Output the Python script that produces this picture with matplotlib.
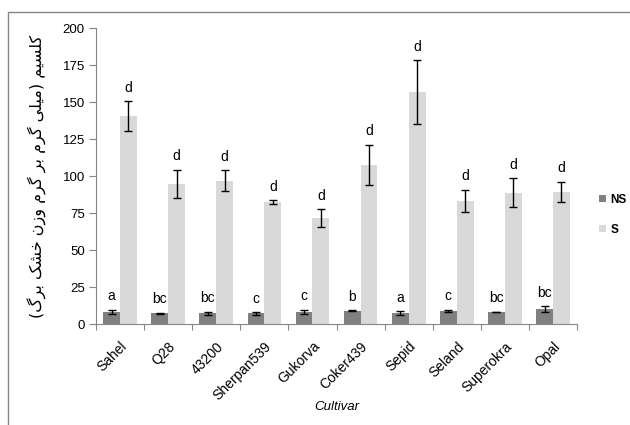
import numpy as np
import matplotlib.pyplot as plt
from matplotlib.patches import Rectangle

cultivars = ["Sahel", "Q28", "43200", "Sherpan539", "Gukorva", "Coker439",
             "Sepid", "Seland", "Superokra", "Opal"]
ns_mean = [8.1, 7.2, 7.4, 7.2, 8.1, 9.0, 7.4, 8.8, 8.1, 10.1]
ns_err = [1.5, 0.5, 1.0, 1.0, 1.5, 0.3, 1.5, 1.0, 0.3, 1.8]
s_mean = [140.7, 94.7, 96.8, 82.3, 71.5, 107.6, 156.8, 83.2, 88.8, 89.3]
s_err = [10.0, 9.7, 7.0, 1.5, 6.2, 13.5, 21.5, 7.5, 9.8, 7.0]
ns_letters = ["a", "bc", "bc", "c", "c", "b", "a", "c", "bc", "bc"]
s_letters = ["d"] * 10

ylabel_fa = "کلسیم (میلی گرم بر گرم وزن خشک برگ)"

# contextual forms: isolated, final, initial, medial
FORMS = {
    "ک": ("\uFB8E", "\uFB8F", "\uFB90", "\uFB91"),
    "گ": ("\uFB92", "\uFB93", "\uFB94", "\uFB95"),
    "ی": ("\uFBFC", "\uFBFD", "\uFBFE", "\uFBFF"),
    "ل": ("\uFEDD", "\uFEDE", "\uFEDF", "\uFEE0"),
    "س": ("\uFEB1", "\uFEB2", "\uFEB3", "\uFEB4"),
    "م": ("\uFEE1", "\uFEE2", "\uFEE3", "\uFEE4"),
    "ب": ("\uFE8F", "\uFE90", "\uFE91", "\uFE92"),
    "ن": ("\uFEE5", "\uFEE6", "\uFEE7", "\uFEE8"),
    "خ": ("\uFEA5", "\uFEA6", "\uFEA7", "\uFEA8"),
    "ش": ("\uFEB5", "\uFEB6", "\uFEB7", "\uFEB8"),
    "ر": ("\uFEAD", "\uFEAE", None, None),
    "ز": ("\uFEAF", "\uFEB0", None, None),
    "و": ("\uFEED", "\uFEEE", None, None),
}


def shape_rtl(text):
    out = []
    for i, ch in enumerate(text):
        if ch not in FORMS:
            out.append(ch)
            continue
        prev = text[i - 1] if i > 0 else ""
        nxt = text[i + 1] if i + 1 < len(text) else ""
        join_prev = prev in FORMS and FORMS[prev][2] is not None
        join_next = FORMS[ch][2] is not None and nxt in FORMS
        iso, fin, ini, med = FORMS[ch]
        if join_prev and join_next:
            out.append(med)
        elif join_prev:
            out.append(fin)
        elif join_next:
            out.append(ini)
        else:
            out.append(iso)
    vis = "".join(reversed(out))
    return vis.translate(str.maketrans("()", ")("))


plt.rcParams["font.family"] = ["Liberation Sans", "DejaVu Sans"]

fig = plt.figure(figsize=(6.3, 4.25), dpi=100)
ax = fig.add_axes([0.1524, 0.2376, 0.7635, 0.6964])

x = np.arange(len(cultivars))
w = 0.35
grey = "#868686"
ax.bar(x - w / 2, ns_mean, w, color="#808080", label="NS")
ax.bar(x + w / 2, s_mean, w, color="#d9d9d9", label="S")
ax.errorbar(x - w / 2, ns_mean, yerr=ns_err, fmt="none", ecolor="black",
            elinewidth=1, capsize=3, capthick=1)
ax.errorbar(x + w / 2, s_mean, yerr=s_err, fmt="none", ecolor="black",
            elinewidth=1, capsize=3, capthick=1)

for i in range(len(cultivars)):
    ax.text(x[i] - w / 2, ns_mean[i] + ns_err[i] + 9, ns_letters[i],
            ha="center", va="center", fontsize=10)
    ax.text(x[i] + w / 2, s_mean[i] + s_err[i] + 9, s_letters[i],
            ha="center", va="center", fontsize=10)

ax.set_xlim(-0.5, len(cultivars) - 0.5)
ax.set_ylim(0, 200)
ax.set_yticks(np.arange(0, 201, 25))
ax.tick_params(axis="y", direction="out", length=5, color=grey,
               labelsize=9.5, pad=3)

# boundary ticks between cultivars, names centred under each group
ax.set_xticks(np.arange(-0.5, len(cultivars), 1.0))
ax.set_xticklabels([])
ax.set_xticks(x, minor=True)
ax.set_xticklabels(cultivars, minor=True, rotation=45, ha="right",
                   rotation_mode="anchor", fontsize=10)
ax.tick_params(axis="x", which="major", direction="out", length=4, color=grey)
ax.tick_params(axis="x", which="minor", length=0, pad=11)

for side in ["top", "right"]:
    ax.spines[side].set_visible(False)
for side in ["left", "bottom"]:
    ax.spines[side].set_color(grey)

ax.set_xlabel("Cultivar", fontstyle="italic", fontsize=9.5)
ax.xaxis.set_label_coords(0.5, -0.26)
ax.set_ylabel(shape_rtl(ylabel_fa), family="DejaVu Sans", fontsize=11.5)
ax.yaxis.set_label_coords(-0.102, 0.5)

leg = ax.legend(loc="upper left", bbox_to_anchor=(1.045, 0.44), frameon=False,
                borderpad=0, borderaxespad=0, handlelength=0.6,
                handleheight=0.6, handletextpad=0.4, labelspacing=1.5,
                prop={"weight": "bold", "size": 8.5})

fig.add_artist(Rectangle((8 / 630, -0.1), 1.2, 0.1 + (425 - 11.5) / 425,
                         transform=fig.transFigure, fill=False,
                         edgecolor=grey, linewidth=1))

fig.savefig("out.png", dpi=100)
